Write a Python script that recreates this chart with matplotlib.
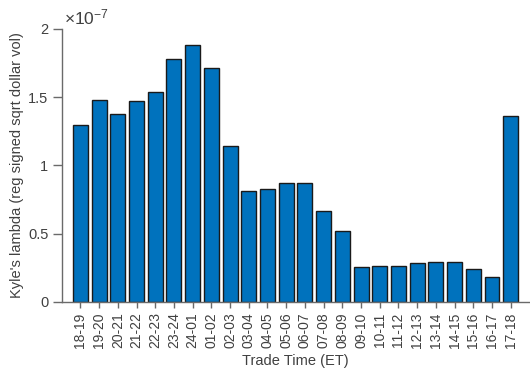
import matplotlib
matplotlib.use("Agg")
import matplotlib.pyplot as plt
from matplotlib.ticker import FuncFormatter

hours = ["18-19", "19-20", "20-21", "21-22", "22-23", "23-24", "24-01", "01-02",
         "02-03", "03-04", "04-05", "05-06", "06-07", "07-08", "08-09", "09-10",
         "10-11", "11-12", "12-13", "13-14", "14-15", "15-16", "16-17", "17-18"]
kyle_lambda = [1.30e-7, 1.48e-7, 1.38e-7, 1.47e-7, 1.535e-7, 1.78e-7, 1.88e-7, 1.715e-7,
               1.145e-7, 0.815e-7, 0.83e-7, 0.87e-7, 0.87e-7, 0.665e-7, 0.52e-7, 0.255e-7,
               0.265e-7, 0.265e-7, 0.285e-7, 0.295e-7, 0.295e-7, 0.245e-7, 0.185e-7, 1.36e-7]
scale = 1e-7

text_color = "#404040"
axis_color = "#6a6a6a"
plt.rcParams["font.family"] = ["Liberation Sans", "DejaVu Sans"]
plt.rcParams["mathtext.fontset"] = "custom"
plt.rcParams["mathtext.rm"] = "Liberation Sans"
plt.rcParams["mathtext.it"] = "Liberation Sans:italic"
plt.rcParams["mathtext.bf"] = "Liberation Sans:bold"

fig = plt.figure(figsize=(5.30, 3.75), dpi=100)
ax = fig.add_axes([0.1164, 0.1947, 0.8825, 0.7280])

pos = list(range(1, len(hours) + 1))
ax.bar(pos, kyle_lambda, width=0.8, color="#0072BD", edgecolor="#1a1a1a", linewidth=1.0)

ax.set_xlim(0, len(hours) + 1)
ax.set_ylim(0, 2 * scale)
ax.set_xticks(pos)
ax.set_xticklabels(hours, rotation=90, fontsize=10, color=text_color)
ax.set_yticks([0, 0.5 * scale, 1 * scale, 1.5 * scale, 2 * scale])
ax.yaxis.set_major_formatter(FuncFormatter(lambda v, p: "%g" % round(v / scale, 2)))
ax.tick_params(axis="y", labelsize=10.5, colors=text_color, direction="out", length=6.5,
               width=1.0, color=axis_color, pad=3)
ax.tick_params(axis="x", colors=text_color, direction="out", length=4.5,
               width=1.0, color=axis_color, pad=3)

for side in ("top", "right"):
    ax.spines[side].set_visible(False)
for side in ("left", "bottom"):
    ax.spines[side].set_color(axis_color)
    ax.spines[side].set_linewidth(1.0)

ax.set_ylabel("Kyle's lambda (reg signed sqrt dollar vol)", fontsize=10.5, color=text_color, labelpad=3)
ax.set_xlabel("Trade Time (ET)", fontsize=10.5, color=text_color, labelpad=4)

ax.text(0.004, 1.004, r"$\times\mathrm{10}^{\mathrm{-7}}$", transform=ax.transAxes,
        ha="left", va="bottom", fontsize=12.5, color=text_color)

fig.savefig("out.png", dpi=100)
